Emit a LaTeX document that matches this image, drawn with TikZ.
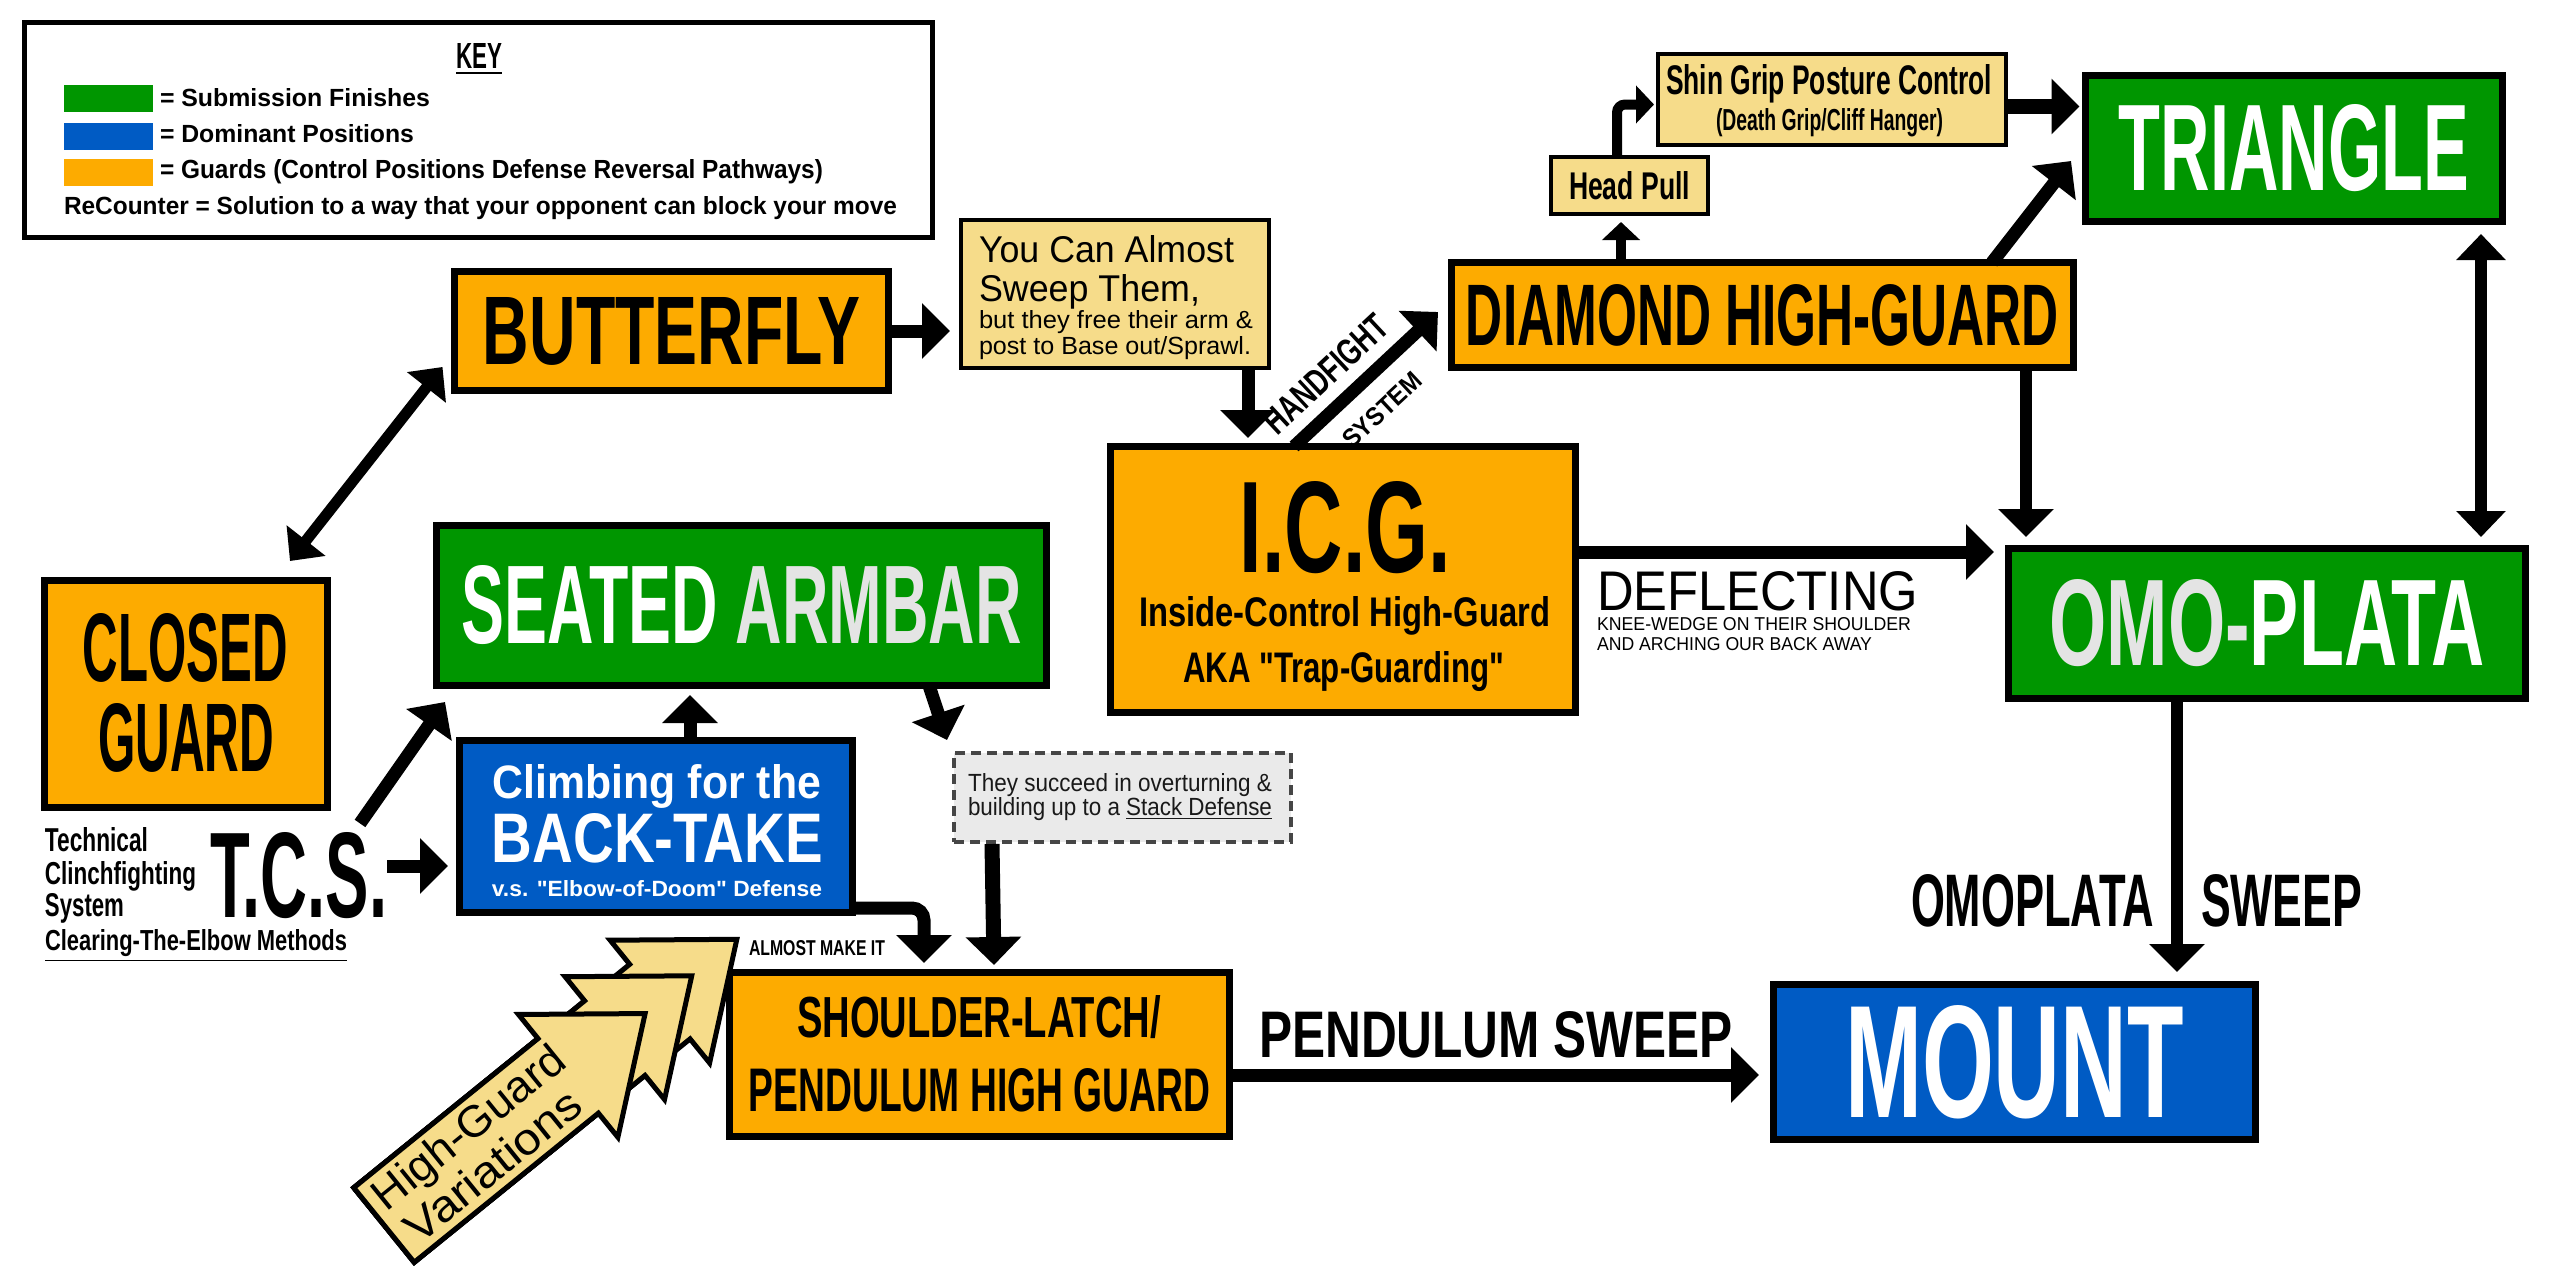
\documentclass[tikz,border=0pt]{standalone}
\usepackage{fontspec}
\setmainfont{Liberation Sans}[Ligatures=TeXOff]
\usetikzlibrary{arrows.meta}
\newlength\pxu
\setlength\pxu{0.5pt}
\newcommand\fb[3]{\resizebox{#1\pxu}{#2\pxu}{#3}}
\newcommand\sq{\symbol{34}}
\definecolor{gorange}{RGB}{253,171,0}
\definecolor{ggreen}{RGB}{0,150,0}
\definecolor{gblue}{RGB}{0,91,196}
\definecolor{lyellow}{RGB}{246,220,138}
\definecolor{lgrey}{RGB}{234,234,234}
\definecolor{dgrey}{RGB}{70,70,70}
\definecolor{wgrey}{RGB}{228,228,228}
\begin{document}
\begin{tikzpicture}[x=0.5pt,y=-0.5pt,
  box/.style={draw=black,line width=7\pxu,inner sep=0pt,outer sep=0pt,font=\bfseries},
  guard/.style={box,fill=gorange},
  subm/.style={box,fill=ggreen,text=white},
  domi/.style={box,fill=gblue,text=white},
  note/.style={draw=black,line width=4\pxu,fill=lyellow,inner sep=0pt,outer sep=0pt},
  txt/.style={inner sep=0pt,outer sep=0pt},
  arr/.style={line width=13\pxu,-{Triangle[length=14pt,width=27pt]}},
  smallarr/.style={line width=10\pxu,-{Triangle[length=9pt,width=18.5pt]}},
  dblarr/.style={line width=11\pxu,{Triangle[length=13pt,width=24pt]}-{Triangle[length=13pt,width=24pt]}},
  dblarrb/.style={line width=12\pxu,{Triangle[length=13pt,width=24pt]}-{Triangle[length=13pt,width=24pt]}},
]
\fill[white] (0,0) rectangle (2560,1280);
\useasboundingbox (0,0) rectangle (2560,1280);

% ---------- KEY ----------
\node[draw=black,line width=5\pxu,inner sep=0pt,minimum width=908\pxu,minimum height=215\pxu] (key) at (478.5,130) {};
\node[txt,font=\bfseries,anchor=base] (keyt) at (479,68) {\fb{46}{25}{\underline{KEY}}};
\node[fill=ggreen,inner sep=0pt,minimum width=89\pxu,minimum height=27\pxu] (swg) at (108.5,98.5) {};
\node[fill=gblue,inner sep=0pt,minimum width=89\pxu,minimum height=27\pxu] (swb) at (108.5,136) {};
\node[fill=gorange,inner sep=0pt,minimum width=89\pxu,minimum height=27\pxu] (swo) at (108.5,172.5) {};
\node[txt,font=\bfseries,anchor=base west] (k1) at (160,106) {\fb{270}{18}{= Submission Finishes}};
\node[txt,font=\bfseries,anchor=base west] (k2) at (160,142) {\fb{254}{18}{= Dominant Positions}};
\node[txt,font=\bfseries,anchor=base west] (k3) at (160,178) {\fb{663}{19}{= Guards (Control Positions Defense Reversal Pathways)}};
\node[txt,font=\bfseries,anchor=base west] (k4) at (64,214) {\fb{833}{18}{ReCounter = Solution to a way that your opponent can block your move}};

% ---------- boxes ----------
\node[guard,minimum width=434\pxu,minimum height=119\pxu] (butterfly) at (671.5,331) {\fb{377}{67}{BUTTERFLY}};

\node[note,minimum width=308\pxu,minimum height=148\pxu] (youcan) at (1115,294) {};
\node[txt,anchor=base west] (yc1) at (979,262) {\fb{255}{27}{You Can Almost}};
\node[txt,anchor=base west] (yc2) at (979,301) {\fb{221}{27}{Sweep Them,}};
\node[txt,anchor=base west] (yc3) at (979,328) {\fb{274}{18}{but they free their arm \&}};
\node[txt,anchor=base west] (yc4) at (979,354) {\fb{272}{18}{post to Base out/Sprawl.}};

\node[note,font=\bfseries,minimum width=157\pxu,minimum height=57\pxu] (headpull) at (1629.5,185.5) {\fb{121}{28}{Head Pull}};

\node[note,minimum width=348\pxu,minimum height=91\pxu] (shin) at (1832,99.5) {};
\node[txt,font=\bfseries,anchor=base] (shin1) at (1829,94) {\fb{326}{30}{Shin Grip Posture Control}};
\node[txt,font=\bfseries,anchor=base] (shin2) at (1829.5,130) {\fb{227}{22}{(Death Grip/Cliff Hanger)}};

\node[subm,minimum width=417\pxu,minimum height=146\pxu] (triangle) at (2294,148.5) {\fb{350}{86}{TRIANGLE}};

\node[guard,minimum width=622\pxu,minimum height=105\pxu] (diamond) at (1762.5,315) {\fb{593}{61}{DIAMOND HIGH-GUARD}};

\node[guard,minimum width=465\pxu,minimum height=266\pxu] (icg) at (1343,579.5) {};
\node[txt,font=\bfseries,anchor=base] (icg1) at (1345.5,572) {\fb{211}{91}{I.C.G.}};
\node[txt,font=\bfseries,anchor=base] (icg2) at (1344.5,626) {\fb{411}{30}{Inside-Control High-Guard}};
\node[txt,font=\bfseries,anchor=base] (icg3) at (1343.5,682) {\fb{321}{31}{AKA \sq Trap-Guarding\sq}};

\node[subm,minimum width=517\pxu,minimum height=150\pxu] (omo) at (2267,623.5) {\fb{435}{86}{\textcolor{wgrey}{OMO-}PLATA}};

\node[guard,minimum width=283\pxu,minimum height=227\pxu] (closed) at (186,694) {};
\node[txt,font=\bfseries,anchor=base] (cl1) at (185.5,681) {\fb{205}{68}{CLOSED}};
\node[txt,font=\bfseries,anchor=base] (cl2) at (186,771) {\fb{176}{68}{GUARD}};

\node[subm,minimum width=610\pxu,minimum height=160\pxu] (seated) at (741.5,605.5) {\fb{560}{78}{SEATED \textcolor{wgrey}{ARMBAR}}};

\node[domi,minimum width=393\pxu,minimum height=172\pxu] (climb) at (656,826.5) {};
\node[txt,font=\bfseries,text=white,anchor=base] (cb1) at (657,798) {\fb{328}{34}{Climbing for the}};
\node[txt,font=\bfseries,text=white,anchor=base] (cb2) at (657.5,862) {\fb{331}{49}{BACK-TAKE}};
\node[txt,font=\bfseries,text=white,anchor=base] (cb3) at (657,896) {\fb{330}{16}{v.s. \sq Elbow-of-Doom\sq{} Defense}};

\node[draw=dgrey,line width=4\pxu,dash pattern=on 5pt off 3pt,fill=lgrey,inner sep=0pt,minimum width=337\pxu,minimum height=89\pxu] (stack) at (1122.5,797.5) {};
\node[txt,text=black!90,anchor=base west] (st1) at (968,791) {\fb{304}{18}{They succeed in overturning \&}};
\node[txt,text=black!90,anchor=base west] (st2) at (968,815) {\fb{304}{18}{building up to a \underline{Stack Defense}}};

\node[guard,minimum width=500\pxu,minimum height=164\pxu] (shoulder) at (979.5,1054.5) {};
\node[txt,font=\bfseries,anchor=base] (sh1) at (979,1037) {\fb{364}{42}{SHOULDER-LATCH/}};
\node[txt,font=\bfseries,anchor=base] (sh2) at (979.5,1111) {\fb{461}{43}{PENDULUM HIGH GUARD}};

\node[domi,minimum width=482\pxu,minimum height=155\pxu] (mount) at (2014.5,1062) {\fb{339}{112}{MOUNT}};

% ---------- free labels ----------
\node[txt,font=\bfseries] (tcs) at (298.5,875.5) {\fb{177}{85}{T.C.S.}};
\node[txt,font=\bfseries,anchor=base west] (tcs1) at (45,851) {\fb{103}{24}{Technical}};
\node[txt,font=\bfseries,anchor=base west] (tcs2) at (45,884) {\fb{151}{23}{Clinchfighting}};
\node[txt,font=\bfseries,anchor=base west] (tcs3) at (45,916) {\fb{79}{23}{System}};
\node[txt,font=\bfseries,anchor=base west] (tcs4) at (45,950) {\fb{302}{21}{\underline{Clearing-The-Elbow Methods}}};

\node[txt,font=\bfseries,anchor=base west] (almost) at (749,955) {\fb{136}{15}{ALMOST MAKE IT}};
\node[txt,anchor=base west] (defl) at (1597,610) {\fb{321}{39}{DEFLECTING}};
\node[txt,anchor=base west] (defl2) at (1597,630) {\fb{314}{13}{KNEE-WEDGE ON THEIR SHOULDER}};
\node[txt,anchor=base west] (defl3) at (1597,650) {\fb{275}{13}{AND ARCHING OUR BACK AWAY}};
\node[txt,font=\bfseries,anchor=base west] (pend) at (1259,1057) {\fb{474}{46}{PENDULUM SWEEP}};
\node[txt,font=\bfseries,anchor=base west] (omol) at (1911,926) {\fb{243}{52}{OMOPLATA}};
\node[txt,font=\bfseries,anchor=base west] (omor) at (2201,926) {\fb{161}{52}{SWEEP}};
\node[txt,font=\bfseries,rotate=43] (hf1) at (1326,374) {\fb{156}{26}{HANDFIGHT}};
\node[txt,font=\bfseries,rotate=43] (hf2) at (1382,410) {\fb{98}{18}{SYSTEM}};

% ---------- High-Guard Variations arrows ----------
\begin{scope}[shift={(384,1225)},rotate=39]
\foreach \T in {454,396,336} {
  \pgfmathsetmacro\B{\T-99}
  \draw[line width=5\pxu,fill=lyellow,line join=miter] (0,-48) -- (\B,-48) -- (\B,-79) -- (\T,0) -- (\B,79) -- (\B,48) -- (0,48) -- cycle;
}
\node[txt,rotate=39,anchor=base] (hg1) at (127,-8) {\fb{234}{32}{High-Guard}};
\node[txt,rotate=39,anchor=base] (hg2) at (122,38) {\fb{214}{32}{Variations}};
\end{scope}

% ---------- connectors ----------
\draw[arr] (butterfly.east) -- ([shift={(-11,37)}]youcan.west);
\draw[dblarr] ([shift={(-12,-23.5)}]butterfly.south west) -- ([shift={(245.5,-19.5)}]closed.north west);
\draw[arr] ([shift={(133,0)}]youcan.south) -- ([shift={(-95,-8.5)}]icg.north);
\draw[arr] ([shift={(-49,0)}]icg.north) -- ([shift={(-13.5,-3)}]diamond.west);
\draw[smallarr] ([shift={(-141.5,0)}]diamond.north) -- ([shift={(-8.5,8)}]headpull.south);
\draw[smallarr,rounded corners=4pt] ([shift={(-12.5,0)}]headpull.north) |- ([shift={(-4,5)}]shin.west);
\draw[arr,line width=15\pxu] ([shift={(0,7)}]shin.east) -- ([shift={(-6,-42)}]triangle.west);
\draw[arr] ([shift={(-81.5,0)}]diamond.north east) -- ([shift={(-14.5,12.5)}]triangle.west);
\draw[arr,line width=12\pxu] ([shift={(-47.5,0)}]diamond.south east) -- ([shift={(17.5,-11.5)}]omo.north west);
\draw[dblarrb] ([shift={(-21.5,12.5)}]triangle.south east) -- ([shift={(-44.5,-11.5)}]omo.north east);
\draw[arr] ([shift={(0,105.5)}]icg.north east) -- ([shift={(-14.5,-71.5)}]omo.west);
\draw[arr,line width=12\pxu] ([shift={(-90,0)}]omo.south) -- ([shift={(162.5,-12.5)}]mount.north);
\draw[arr] ([shift={(0,20.5)}]shoulder.east) -- ([shift={(-14.5,13)}]mount.west);
\draw[arr] ([shift={(0,-9.5)}]tcs.east) -- ([shift={(-11.5,39.5)}]climb.west);
\draw[arr] ([shift={(61.5,-9)}]tcs.north) -- ([shift={(8.5,16.5)}]seated.south west);
\draw[arr] ([shift={(34,0)}]climb.north) -- ([shift={(-51.5,9.5)}]seated.south);
\draw[arr] ([shift={(-117.5,0)}]seated.south east) -- ([shift={(-5,-11)}]stack.north west);
\draw[arr,line width=15\pxu] ([shift={(40,0)}]stack.south west) -- ([shift={(264.5,-7.5)}]shoulder.north west);
\draw[arr,rounded corners=6pt] ([shift={(0,81.5)}]climb.east) -| ([shift={(194.5,-9.5)}]shoulder.north west);
\end{tikzpicture}
\end{document}
